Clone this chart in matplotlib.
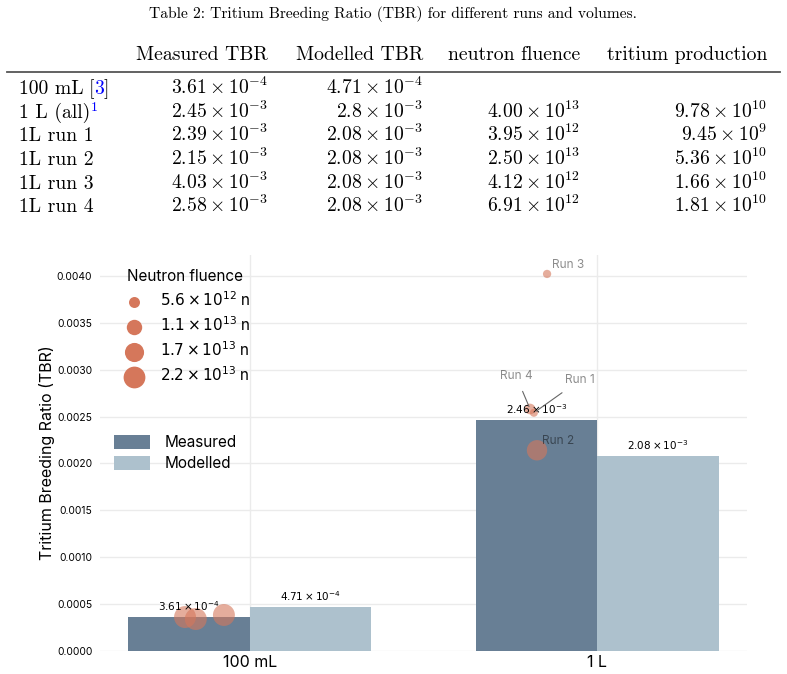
import numpy as np
import matplotlib
matplotlib.use("Agg")
import matplotlib.pyplot as plt
from matplotlib.transforms import IdentityTransform
from matplotlib.lines import Line2D

# ---- table data ----
caption = "Table 2: Tritium Breeding Ratio (TBR) for different runs and volumes."
table_header = ["Measured TBR", "Modelled TBR", "neutron fluence", "tritium production"]
row_names = ["100 mL", "1 L (all)", "1L run 1", "1L run 2", "1L run 3", "1L run 4"]
tbl_measured = [r"3.61\times10^{-4}", r"2.45\times10^{-3}", r"2.39\times10^{-3}",
                r"2.15\times10^{-3}", r"4.03\times10^{-3}", r"2.58\times10^{-3}"]
tbl_modelled = [r"4.71\times10^{-4}", r"2.8\times10^{-3}", r"2.08\times10^{-3}",
                r"2.08\times10^{-3}", r"2.08\times10^{-3}", r"2.08\times10^{-3}"]
tbl_fluence = ["", r"4.00\times10^{13}", r"3.95\times10^{12}", r"2.50\times10^{13}",
               r"4.12\times10^{12}", r"6.91\times10^{12}"]
tbl_tritium = ["", r"9.78\times10^{10}", r"9.45\times10^{9}", r"5.36\times10^{10}",
               r"1.66\times10^{10}", r"1.81\times10^{10}"]

# ---- chart data ----
volumes = ["100 mL", "1 L"]
measured = [3.61e-4, 2.46e-3]
modelled = [4.71e-4, 2.08e-3]

# individual runs (x = category index + jitter offset)
run_x = [-0.187, -0.156, -0.075, 0.818, 0.827, 0.856, 0.807]
run_tbr = [3.62e-4, 3.41e-4, 3.84e-4, 2.54e-3, 2.14e-3, 4.02e-3, 2.58e-3]
run_fluence = [2.9e13, 2.9e13, 2.9e13, 3.95e12, 2.50e13, 4.12e12, 6.91e12]
run_names = ["", "", "", "Run 1", "Run 2", "Run 3", "Run 4"]
run_text_pos = {"Run 1": (0.951, 2.89e-3), "Run 2": (0.841, 2.24e-3),
                "Run 3": (0.870, 4.115e-3), "Run 4": (0.767, 2.93e-3)}

legend_fluence = [5.6e12, 1.1e13, 1.7e13, 2.2e13]
legend_fluence_lbl = [r"$5.6\times10^{12}$ n", r"$1.1\times10^{13}$ n",
                      r"$1.7\times10^{13}$ n", r"$2.2\times10^{13}$ n"]

c_meas = "#687f95"
c_mod = "#adc1cd"
c_dot = "#d5775b"


def size_of(f):
    return f / 1e12 * 8.6


def sci(v):
    m, e = f"{v:.2e}".split("e")
    return rf"${m}\times10^{{{int(e)}}}$"


plt.rcParams["font.family"] = ["Inter", "DejaVu Sans"]

W, H = 787, 674
fig = plt.figure(figsize=(W / 100, H / 100), dpi=100)
r = fig.canvas.get_renderer()
pix = IdentityTransform()


def put(x, y, s, **kw):
    kw.setdefault("family", "cmr10")
    kw.setdefault("math_fontfamily", "cm")
    kw.setdefault("fontsize", 14.2)
    kw.setdefault("va", "baseline")
    return fig.text(x, H - y, s, transform=pix, **kw)


# ---- table ----
put(393, 18, caption, ha="center", fontsize=11.2)
col_right = [268, 423, 580, 767]
for x, h in zip(col_right, table_header):
    put(x, 60, h, ha="right")
fig.add_artist(Line2D([7, 780], [H - 71.5, H - 71.5], transform=pix,
                      color="#555555", lw=1.3))
row_base = [94, 118, 141, 165, 189, 212]
for i, name in enumerate(row_names):
    y = row_base[i]
    t = put(19, y, name)
    x1 = t.get_window_extent(r).x1
    if i == 0:
        t2 = put(x1 + 5, y, "[")
        x2 = t2.get_window_extent(r).x1
        t3 = put(x2, y, "3", color="blue")
        x3 = t3.get_window_extent(r).x1
        put(x3, y, "]")
    elif i == 1:
        put(x1 + 1, y - 7, "1", color="blue", fontsize=10)
    for col, vals in enumerate([tbl_measured, tbl_modelled, tbl_fluence, tbl_tritium]):
        if vals[i]:
            put(col_right[col], y, f"${vals[i]}$", ha="right")

# ---- chart ----
ax = fig.add_axes([100 / W, 23 / H, 647 / W, 396 / H])
xc = np.arange(len(volumes))
w = 0.35
b1 = ax.bar(xc - w / 2, measured, w, color=c_meas, label="Measured", zorder=2)
b2 = ax.bar(xc + w / 2, modelled, w, color=c_mod, label="Modelled", zorder=2)
ax.bar_label(b1, labels=[sci(v) for v in measured], padding=3, fontsize=7.5,
             family="DejaVu Sans", zorder=5)
ax.bar_label(b2, labels=[sci(v) for v in modelled], padding=3, fontsize=7.5,
             family="DejaVu Sans", zorder=5)

ax.scatter(run_x, run_tbr, s=[size_of(f) for f in run_fluence], color=c_dot,
           alpha=0.6, lw=0, zorder=3)
for x, y, n in zip(run_x, run_tbr, run_names):
    if not n:
        continue
    tx, ty = run_text_pos[n]
    if n in ("Run 1", "Run 4"):
        ax.annotate(n, (x, y), xytext=(tx, ty), ha="center", va="center",
                    fontsize=8.5, color="black", alpha=0.45, zorder=6,
                    arrowprops=dict(arrowstyle="-", color="#666666", lw=0.8,
                                    shrinkA=5, shrinkB=2))
    else:
        ax.text(tx, ty, n, ha="left", va="center", fontsize=8.5,
                color="black", alpha=0.45, zorder=6)

ax.set_xlim(-0.432, 1.432)
ax.set_ylim(0, 0.004222)
ax.set_xticks(xc)
ax.set_xticklabels(volumes)
ax.set_yticks(np.arange(0, 0.00401, 0.0005))
ax.yaxis.set_major_formatter(plt.FormatStrFormatter("%.4f"))
ax.tick_params(axis="y", length=0, labelsize=7.4, pad=5.5)
ax.tick_params(axis="x", length=0, labelsize=11.5, pad=3)
ax.set_ylabel("Tritium Breeding Ratio (TBR)", fontsize=11.5, labelpad=1)
ax.grid(True, color="#ebebeb", lw=1, zorder=0)
ax.set_axisbelow(True)
for s in ax.spines.values():
    s.set_visible(False)

handles = [ax.scatter([], [], s=size_of(f) * 1.3, color=c_dot, lw=0)
           for f in legend_fluence]
leg1 = ax.legend(handles, legend_fluence_lbl, title="Neutron fluence",
                 loc="upper left", bbox_to_anchor=(0.02, 1.0), frameon=False,
                 fontsize=11, title_fontsize=11, labelspacing=0.42,
                 handlelength=1.0, handletextpad=1.2, alignment="left")
ax.add_artist(leg1)
ax.legend(handles=[b1, b2], loc="upper left", bbox_to_anchor=(0.0, 0.58),
          frameon=False, fontsize=11, handlelength=2.4, handleheight=1.0,
          handletextpad=0.9, labelspacing=0.4)

fig.savefig("out.png", dpi=100)
